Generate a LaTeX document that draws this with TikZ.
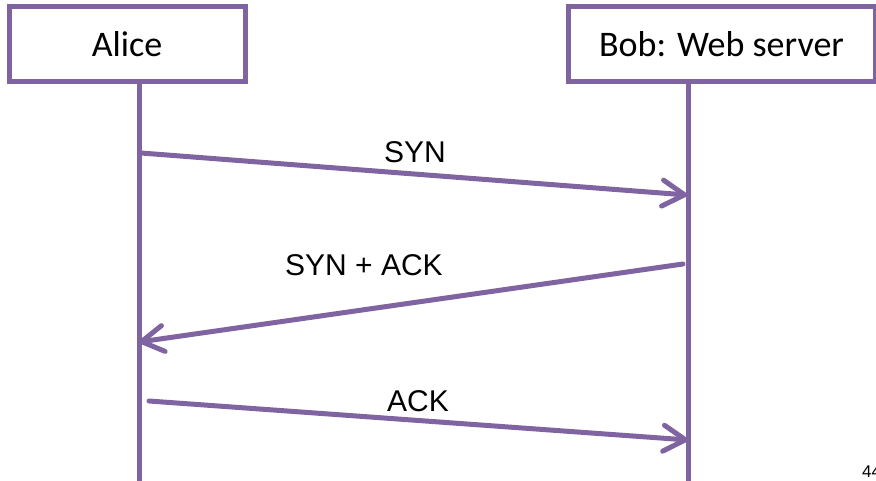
\documentclass[tikz,border=0pt]{standalone}
\usepackage{fontspec}
\setmainfont{Carlito}
\newfontfamily\arialf{Liberation Sans}
\usetikzlibrary{arrows.meta,shadows}
\definecolor{vio}{RGB}{128,100,162}
\begin{document}
\begin{tikzpicture}[x=1pt,y=-1pt,
  actor/.style={draw=vio,line width=5pt,fill=white,minimum height=75pt,
    font=\fontsize{36}{40}\selectfont,inner sep=0pt,
    drop shadow={opacity=0.25,shadow xshift=2pt,shadow yshift=-2pt}},
  life/.style={draw=vio,line width=5pt},
  msg/.style={draw=vio,line width=5pt,line cap=round,
    -{Straight Barb[length=22pt,width=26pt,round]}},
  lbl/.style={font=\arialf\fontsize{30}{34}\selectfont,inner sep=0pt}]
\useasboundingbox (0,0) rectangle (876,481);
\node[actor,minimum width=236pt] (alice) at (127,44.5) {Alice};
\node[actor,minimum width=307pt] (bob) at (721.5,44.5) {Bob: Web server};
\coordinate (at) at (139,84);
\coordinate (ab) at (139,485);
\coordinate (bt) at (688,84);
\coordinate (bb) at (688,485);
\draw[life] (at) -- (ab);
\draw[life] (bt) -- (bb);
\coordinate (s1) at (141,153);
\coordinate (e1) at (687,195);
\coordinate (s2) at (683,264);
\coordinate (e2) at (139,342);
\coordinate (s3) at (149,401);
\coordinate (e3) at (688,440);
\draw[msg] (s1) -- (e1);
\draw[msg] (s2) -- (e2);
\draw[msg] (s3) -- (e3);
\node[lbl] (l1) at (415,152) {SYN};
\node[lbl] (l2) at (364,265) {SYN + ACK};
\node[lbl] (l3) at (418,401) {ACK};
\node[font=\arialf\fontsize{17}{20}\selectfont,anchor=base west,inner sep=0pt] (pg) at (862,477) {44};
\end{tikzpicture}
\end{document}
